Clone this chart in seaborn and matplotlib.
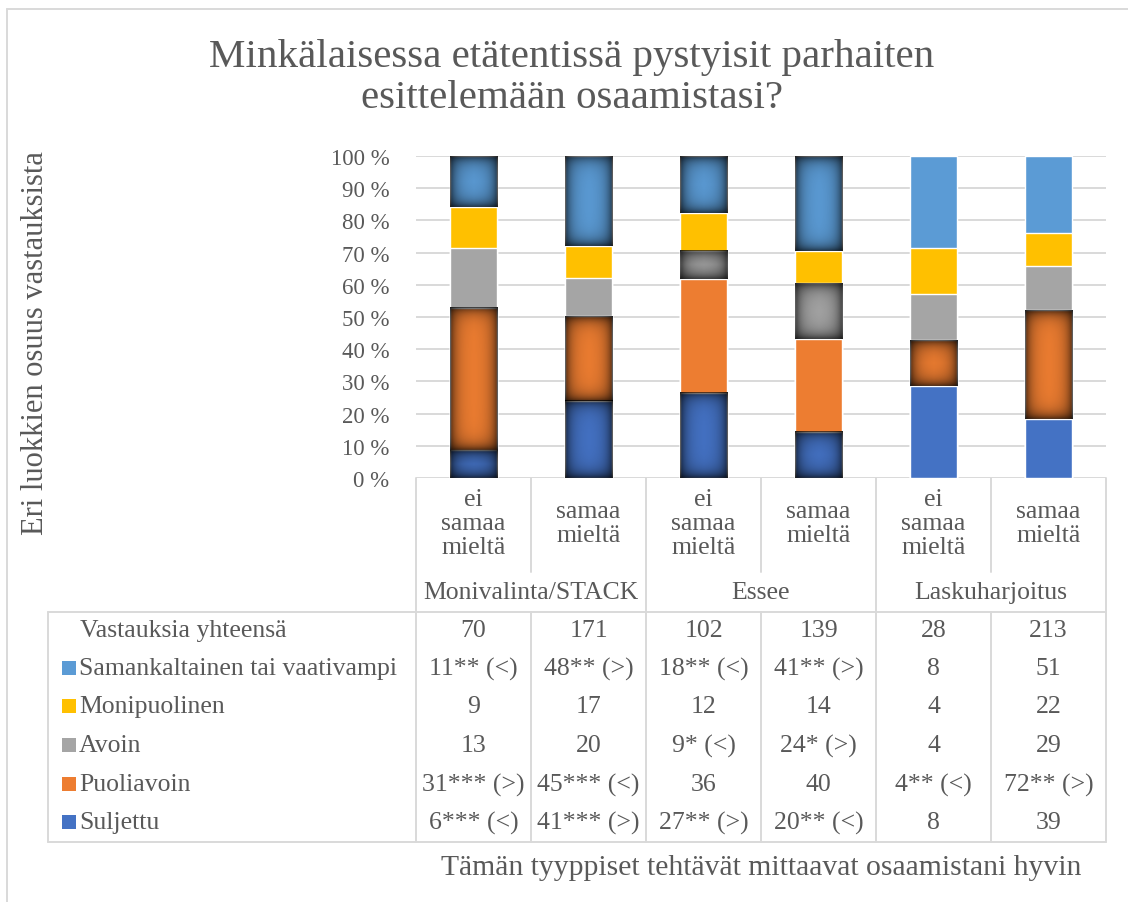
import numpy as np
import pandas as pd
import matplotlib
matplotlib.use("Agg")
import matplotlib.pyplot as plt
import matplotlib.transforms as mtransforms
import seaborn as sns

# --- data -------------------------------------------------------------
groups = ["Monivalinta/STACK", "Essee", "Laskuharjoitus"]
answers = ["ei\nsamaa\nmieltä", "samaa\nmieltä"]
columns = ["c1", "c2", "c3", "c4", "c5", "c6"]

categories = ["Suljettu", "Puoliavoin", "Avoin", "Monipuolinen",
              "Samankaltainen tai vaativampi"]
colors = ["#4472C4", "#ED7D31", "#A5A5A5", "#FFC000", "#5B9BD5"]

suljettu = [6, 41, 27, 20, 8, 39]
puoliavoin = [31, 45, 36, 40, 4, 72]
avoin = [13, 20, 9, 24, 4, 29]
monipuolinen = [9, 17, 12, 14, 4, 22]
samankaltainen = [11, 48, 18, 41, 8, 51]
totals = [70, 171, 102, 139, 28, 213]

suljettu_txt = ["6*** (<)", "41*** (>)", "27** (>)", "20** (<)", "8", "39"]
puoliavoin_txt = ["31*** (>)", "45*** (<)", "36", "40", "4** (<)", "72** (>)"]
avoin_txt = ["13", "20", "9* (<)", "24* (>)", "4", "29"]
monipuolinen_txt = ["9", "17", "12", "14", "4", "22"]
samankaltainen_txt = ["11** (<)", "48** (>)", "18** (<)", "41** (>)", "8", "51"]

counts = [suljettu, puoliavoin, avoin, monipuolinen, samankaltainen]
cell_txt = [suljettu_txt, puoliavoin_txt, avoin_txt, monipuolinen_txt,
            samankaltainen_txt]

# long table with cumulative shares
rows = []
for j, cat in enumerate(categories):
    for i, col in enumerate(columns):
        tot = sum(c[i] for c in counts)
        low = sum(c[i] for c in counts[:j]) / tot * 100
        high = low + counts[j][i] / tot * 100
        rows.append({"col": col, "cat": cat, "low": low, "cum": high,
                     "shade": "*" in cell_txt[j][i]})
df = pd.DataFrame(rows)

# --- figure -----------------------------------------------------------
W, H = 1128, 903
sns.set_theme(style="white")
plt.rcParams["font.family"] = ["Liberation Serif", "DejaVu Serif"]
grey = "#595959"
line_c = "#D9D9D9"

fig = plt.figure(figsize=(W / 100, H / 100), dpi=100)
ax = fig.add_axes([416 / W, 1 - 479 / H, 690 / W, 322 / H])

bar_w = 0.41
for j in reversed(range(len(categories))):
    sub = df[df["cat"] == categories[j]]
    sns.barplot(data=sub, x="col", y="cum", order=columns, color=colors[j],
                saturation=1, width=bar_w, errorbar=None, ax=ax, zorder=2)

# soft inner shadow on segments with significant differences
px_per_y = 322 / 100
nx = int(round(bar_w * 115))


def glow(d):
    return 0.68 * np.exp(-d / 6.5)


for _, r in df[df["shade"]].iterrows():
    i = columns.index(r["col"])
    ny = max(int(round((r["cum"] - r["low"]) * px_per_y)), 2)
    xx = np.minimum(np.arange(nx) + 0.5, nx - np.arange(nx) - 0.5)
    yy = np.minimum(np.arange(ny) + 0.5, ny - np.arange(ny) - 0.5)
    ax_ = glow(xx)[None, :]
    ay_ = glow(yy)[:, None]
    a = 1 - (1 - ax_) * (1 - ay_)
    img = np.zeros((ny, nx, 4))
    img[..., 3] = a
    ax.imshow(img, extent=(i - bar_w / 2, i + bar_w / 2, r["low"], r["cum"]),
              aspect="auto", interpolation="bilinear", origin="lower", zorder=3)

ax.set_xlim(-0.5, 5.5)
ax.set_ylim(0, 100)
ax.set_yticks(range(0, 101, 10))
ax.set_yticklabels([f"{v} %" for v in range(0, 101, 10)])
ax.tick_params(axis="y", length=0, pad=19, labelsize=16.5, labelcolor=grey)
ax.set_xticks([])
ax.set_xlabel("")
ax.set_ylabel("")
ax.grid(axis="y", color=line_c, lw=1.4)
ax.set_axisbelow(True)
for s in ax.spines.values():
    s.set_visible(False)

# --- category axis and data table -------------------------------------
tr = mtransforms.blended_transform_factory(ax.transData, fig.transFigure)


def fy(py):
    return 1 - py / H


def fx(px):
    return px / W


fs = 18.5
for i in range(6):
    ax.text(i, fy(524), answers[i % 2], transform=tr, ha="center", va="center",
            fontsize=fs, color=grey, linespacing=1.14)
for g, name in enumerate(groups):
    ax.text(2 * g + 0.5, fy(593), name, transform=tr, ha="center",
            va="center", fontsize=fs, color=grey)

lk = dict(color=line_c, lw=1.4, transform=tr, clip_on=False)
for k in range(7):
    x = k - 0.5
    if k % 2 == 0:
        ax.plot([x, x], [fy(479), fy(843)], **lk)
    else:
        ax.plot([x, x], [fy(479), fy(573)], **lk)
        ax.plot([x, x], [fy(613), fy(843)], **lk)
fig.add_artist(plt.Line2D([fx(48), fx(1106)], [fy(613), fy(613)], color=line_c, lw=1.4))
fig.add_artist(plt.Line2D([fx(48), fx(1106)], [fy(843), fy(843)], color=line_c, lw=1.4))
fig.add_artist(plt.Line2D([fx(48), fx(48)], [fy(613), fy(843)], color=line_c, lw=1.4))

row_y = [631, 669, 707, 746, 785, 823]
fig.text(fx(80), fy(row_y[0]), "Vastauksia yhteensä", ha="left", va="center",
         fontsize=fs, color=grey)
for i in range(6):
    ax.text(i, fy(row_y[0]), str(totals[i]), transform=tr, ha="center",
            va="center", fontsize=fs, color=grey)
for r, j in enumerate(reversed(range(len(categories)))):
    y = fy(row_y[r + 1])
    fig.add_artist(plt.Rectangle((fx(62), y - 7 / H), 14 / W, 14 / H,
                                 color=colors[j], lw=0))
    fig.text(fx(79), y, categories[j], ha="left", va="center", fontsize=fs,
             color=grey)
    for i in range(6):
        ax.text(i, y, cell_txt[j][i], transform=tr, ha="center", va="center",
                fontsize=fs, color=grey)

# --- titles -----------------------------------------------------------
fig.text(fx(572), fy(78), "Minkälaisessa etätentissä pystyisit parhaiten\n"
         "esittelemään osaamistasi?", ha="center", va="center", fontsize=29.5,
         color=grey, linespacing=1.15)
ax.text(2.5, fy(868), "Tämän tyyppiset tehtävät mittaavat osaamistani hyvin",
        transform=tr, ha="center", va="center", fontsize=21.3, color=grey)
fig.text(fx(36), fy(343), "Eri luokkien osuus vastauksista", rotation=90,
         ha="center", va="center", fontsize=22, color=grey)

# chart frame
fig.add_artist(plt.Line2D([fx(7), fx(7)], [fy(10), 0], color=line_c, lw=1.4))
fig.add_artist(plt.Line2D([fx(7), 1], [fy(10), fy(10)], color=line_c, lw=1.4))

fig.savefig("out.png", dpi=100, facecolor="white")
